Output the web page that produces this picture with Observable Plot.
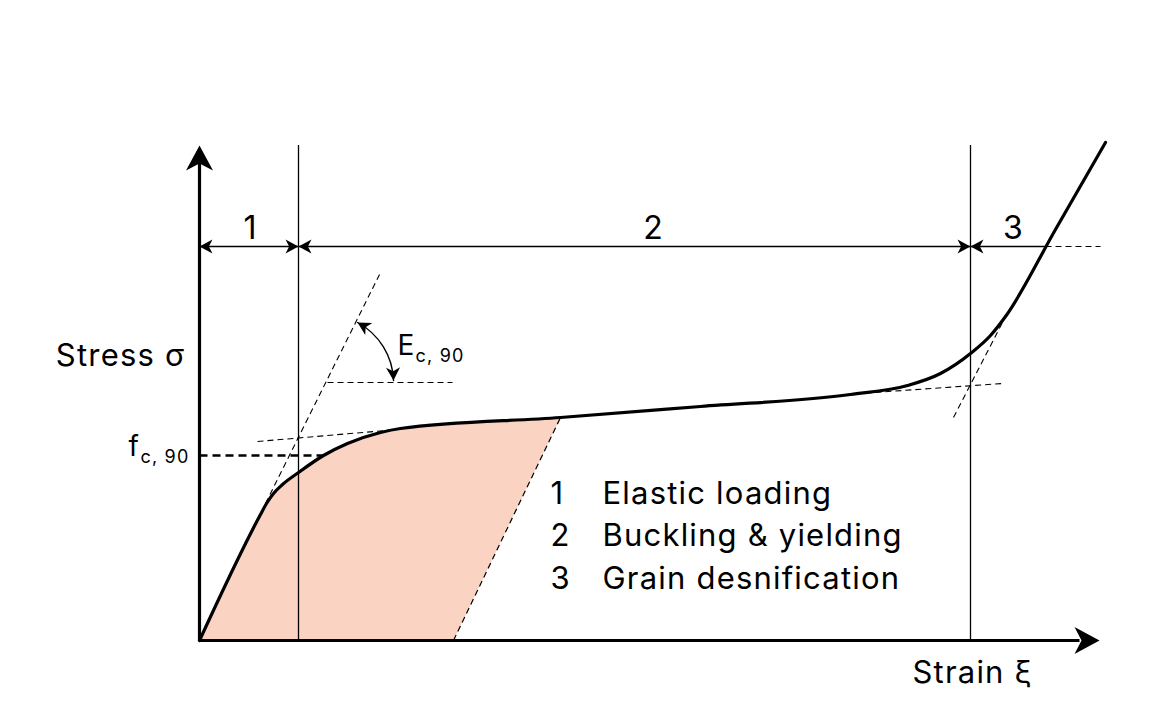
<!DOCTYPE html>
<html><head><meta charset="utf-8">
<script src="https://cdn.jsdelivr.net/npm/d3@7"></script>
<script src="https://cdn.jsdelivr.net/npm/@observablehq/plot@0.6"></script>
<style>body{margin:0;background:#fff;} svg{display:block;}</style>
</head><body><div id="chart"></div>
<script>
// Stress-strain curve (schematic units)
const strain = [0, 6.1, 6.7, 7.4, 8.3, 9.9, 12.4, 14.8, 18.1, 20.1, 36.1, 50.1, 65.1, 70.8, 74.1, 77.1, 79.1, 80.6, 85.6, 90.6];
const stress = [0, 25.2, 27.4, 29.4, 31.2, 33.6, 37, 39.4, 41.6, 42.4, 44.6, 46.8, 49.2, 51, 53.4, 57.4, 61, 64.8, 82.2, 99.6];
// Shaded energy region: loading curve up to this index, then unloading line to the strain axis
const unloadIndex = 10;
const unloadFoot = 25.4;
// Region boundaries (strain) and height of dimension line (stress)
const boundaries = [9.9, 77.1];
const dimLevel = 78.8;
const dimEnd = 84.6;
const dimDashEnd = 90.1;
const regionLabels = ["1", "2", "3"];
const regionLabelX = [5.1, 45.4, 81.4];
// Compressive strength level
const fc90 = 37;
const fc90Strain = 12.4;
// Construction (tangent) lines
const tangentX1 = [6.6, 5.8, 12.8, 64.6, 75.4];
const tangentY1 = [27.4, 39.8, 51.6, 49.2, 44.6];
const tangentX2 = [18, 19.8, 25.3, 80.3, 80.4];
const tangentY2 = [73.2, 42.2, 51.6, 51.4, 64];
// Modulus arc
const arcStart = [15.8, 63.6];
const arcEnd = [19.4, 52];
// Legend
const legendNumbers = ["1", "2", "3"];
const legendLabels = ["Elastic loading", "Buckling & yielding", "Grain desnification"];
const legendY = [27.4, 19, 10.4];

const curve = strain.map((x, i) => ({x, y: stress[i]}));
const loading = curve.slice(0, unloadIndex + 1);
const peak = curve[unloadIndex];
const tangents = tangentX1.map((x1, i) => ({x1, y1: tangentY1[i], x2: tangentX2[i], y2: tangentY2[i]}));

const notched = {
  draw(ctx, size) {
    const L = Math.sqrt(size / Math.PI), w = L * 0.54;
    ctx.moveTo(0, 0); ctx.lineTo(w, L); ctx.lineTo(0, L * 0.72); ctx.lineTo(-w, L); ctx.closePath();
  }
};
const FONT = "Inter, 'DejaVu Sans', sans-serif";

const chart = Plot.plot({
  width: 1176, height: 720,
  marginLeft: 199, marginRight: 77, marginTop: 140, marginBottom: 80,
  x: {domain: [0, 90], axis: null},
  y: {domain: [0, 100], axis: null},
  style: {fontFamily: FONT, background: "white", letterSpacing: "1.2px"},
  marks: [
    Plot.areaY(loading, {x: "x", y: "y", curve: "monotone-x", fill: "#fbd3c2"}),
    Plot.line([{x: unloadFoot, y: 0}, {x: peak.x, y: peak.y}, {x: peak.x + 0.6, y: peak.y}, {x: peak.x + 0.6, y: 0}], {x: "x", y: "y", fill: "white", stroke: "none"}),
    Plot.link([{x1: unloadFoot, y1: 0, x2: peak.x, y2: peak.y}], {x1: "x1", y1: "y1", x2: "x2", y2: "y2", stroke: "black", strokeWidth: 1.2, strokeDasharray: "6,4"}),
    Plot.ruleX(boundaries, {y1: 0, y2: 99, stroke: "black", strokeWidth: 1.3}),
    Plot.link(tangents, {x1: "x1", y1: "y1", x2: "x2", y2: "y2", stroke: "black", strokeWidth: 1.1, strokeDasharray: "6,4"}),
    Plot.link([{x1: 0, y1: fc90, x2: fc90Strain, y2: fc90}], {x1: "x1", y1: "y1", x2: "x2", y2: "y2", stroke: "black", strokeWidth: 2.6, strokeDasharray: "8,5"}),
    // dimension line
    Plot.link([{x1: 0, y1: dimLevel, x2: dimEnd, y2: dimLevel}], {x1: "x1", y1: "y1", x2: "x2", y2: "y2", stroke: "black", strokeWidth: 1.4}),
    Plot.link([{x1: dimEnd, y1: dimLevel, x2: dimDashEnd, y2: dimLevel}], {x1: "x1", y1: "y1", x2: "x2", y2: "y2", stroke: "black", strokeWidth: 1.2, strokeDasharray: "6,4"}),
    Plot.dot([{x: 0, r: -90}, {x: boundaries[0], r: 90}, {x: boundaries[0], r: -90}, {x: boundaries[1], r: 90}, {x: boundaries[1], r: -90}],
      {x: "x", y: () => dimLevel, rotate: "r", r: 13, symbol: notched, fill: "black", stroke: "none"}),
    Plot.text(regionLabels, {x: (d, i) => regionLabelX[i], y: () => dimLevel + 1.6, text: d => d, fontSize: 32, lineAnchor: "bottom", textAnchor: "middle", fill: "black"}),
    // main curve
    Plot.line(curve, {x: "x", y: "y", curve: "monotone-x", stroke: "black", strokeWidth: 3.2}),
    // axes
    Plot.link([{x1: 0, y1: 0, x2: 0, y2: 96}, {x1: 0, y1: 0, x2: 88, y2: 0}], {x1: "x1", y1: "y1", x2: "x2", y2: "y2", stroke: "black", strokeWidth: 3.2}),
    Plot.dot([{x: 0, y: 99, r: 0}, {x: 90, y: 0, r: 90}], {x: "x", y: "y", rotate: "r", r: 25, symbol: notched, fill: "black", stroke: "none"}),
    // modulus arc
    Plot.arrow([{x1: arcStart[0], y1: arcStart[1], x2: arcEnd[0], y2: arcEnd[1]}], {x1: "x1", y1: "y1", x2: "x2", y2: "y2", bend: 30, headLength: 0, stroke: "black", strokeWidth: 1.4}),
    Plot.dot([{x: arcStart[0], y: arcStart[1], r: -60}, {x: arcEnd[0], y: arcEnd[1], r: 178}], {x: "x", y: "y", rotate: "r", r: 13, symbol: notched, fill: "black", stroke: "none"}),
    // labels
    Plot.text(["E"], {x: () => 19.8, y: () => 57.2, text: d => d, fontSize: 28, textAnchor: "start", lineAnchor: "bottom", fill: "black"}),
    Plot.text(["c, 90"], {x: () => 21.6, y: () => 55.8, text: d => d, fontSize: 18, textAnchor: "start", lineAnchor: "bottom", fill: "black"}),
    Plot.text(["f"], {x: () => -7.1, y: () => 37, text: d => d, fontSize: 28, textAnchor: "start", lineAnchor: "bottom", fill: "black"}),
    Plot.text(["c, 90"], {x: () => -1.0, y: () => 35.6, text: d => d, fontSize: 18, textAnchor: "end", lineAnchor: "bottom", fill: "black", style: "letter-spacing:0.8px"}),
    Plot.text(["Stress σ"], {x: () => -1.4, y: () => 55, text: d => d, fontSize: 31, textAnchor: "end", lineAnchor: "bottom", fill: "black"}),
    Plot.text(["Strain ξ"], {x: () => 71.3, y: () => -8.4, text: d => d, fontSize: 31, textAnchor: "start", lineAnchor: "bottom", fill: "black"}),
    Plot.text(legendNumbers, {x: () => 35.1, y: (d, i) => legendY[i], text: d => d, fontSize: 31, textAnchor: "start", lineAnchor: "bottom", fill: "black"}),
    Plot.text(legendLabels, {x: () => 40.3, y: (d, i) => legendY[i], text: d => d, fontSize: 31, textAnchor: "start", lineAnchor: "bottom", fill: "black"})
  ]
});
document.getElementById("chart").appendChild(chart);
</script>
</body></html>
